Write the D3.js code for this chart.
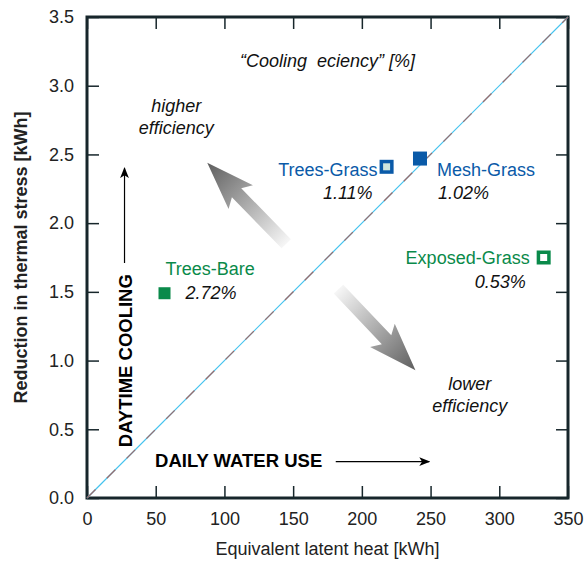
<!DOCTYPE html>
<html>
<head>
<meta charset="utf-8">
<script src="https://cdn.jsdelivr.net/npm/d3@7"></script>
<style>
  body { margin: 0; background: #fff; }
  text { font-family: "Liberation Sans", Arial, sans-serif; }
</style>
</head>
<body>
<div id="chart-area"></div>
<script>
// Data
var sites = ["Trees-Bare", "Trees-Grass", "Mesh-Grass", "Exposed-Grass"];
var latentHeat = [56.4, 218, 242.3, 332.3];
var coolingReduction = [1.49, 2.41, 2.47, 1.75];
var efficiency = ["2.72%", "1.11%", "1.02%", "0.53%"];
var xTicks = [0, 50, 100, 150, 200, 250, 300, 350];
var yTicks = [0, 0.5, 1.0, 1.5, 2.0, 2.5, 3.0, 3.5];

var green = "#0a8a4a", blue = "#0a5aa8", frame = "#17262b";
var fs = "18px";

// Margins
var margin = {top:17, bottom:65, left:87, right:18};
var width = 586 - margin.left - margin.right;
var height = 563 - margin.top - margin.bottom;

var svg = d3.select("#chart-area").append("svg")
    .attr("width", 586).attr("height", 563);

var defs = svg.append("defs");
function grad(id, x1, y1, x2, y2) {
    var g = defs.append("linearGradient").attr("id", id)
        .attr("x1", x1).attr("y1", y1).attr("x2", x2).attr("y2", y2);
    g.append("stop").attr("offset", "0%").attr("stop-color", "#ffffff");
    g.append("stop").attr("offset", "100%").attr("stop-color", "#5e5e5e");
}
grad("gradUp", "1", "1", "0", "0");
grad("gradDown", "0", "0", "1", "1");
defs.append("marker").attr("id", "arrowHead")
    .attr("viewBox", "0 0 10 10").attr("refX", 9).attr("refY", 5)
    .attr("markerWidth", 11).attr("markerHeight", 11).attr("orient", "auto")
    .attr("markerUnits", "userSpaceOnUse")
  .append("path").attr("d", "M0,1 L10,5 L0,9 L2.5,5 Z").attr("fill", "#000");

var canvas = svg.append("g")
    .attr("transform", "translate(" + margin.left + "," + margin.top + ")");

// Scales
var x = d3.scaleLinear().domain([0, 350]).range([0, width]);
var y = d3.scaleLinear().domain([0, 3.5]).range([height, 0]);

// Axes (ticks inward)
var fmtY = d3.format(".1f");
canvas.append("g").attr("transform", "translate(0," + height + ")")
    .call(d3.axisBottom(x).tickValues(xTicks).tickSizeInner(-12).tickSizeOuter(0).tickPadding(14))
    .call(g => g.select(".domain").remove());
canvas.append("g")
    .call(d3.axisLeft(y).tickValues(yTicks).tickFormat(fmtY).tickSizeInner(-12).tickSizeOuter(0).tickPadding(13))
    .call(g => g.select(".domain").remove());
canvas.append("g")
    .call(d3.axisTop(x).tickValues(xTicks).tickSizeInner(-12).tickSizeOuter(0).tickFormat(""))
    .call(g => g.select(".domain").remove());
canvas.append("g").attr("transform", "translate(" + width + ",0)")
    .call(d3.axisRight(y).tickValues(yTicks).tickSizeInner(-12).tickSizeOuter(0).tickFormat(""))
    .call(g => g.select(".domain").remove());
canvas.selectAll(".tick line").attr("stroke", frame).attr("stroke-width", 1.5);
canvas.selectAll(".tick text").attr("font-size", fs).attr("fill", "#222");

// Frame
canvas.append("rect").attr("width", width).attr("height", height)
    .attr("fill", "none").attr("stroke", frame).attr("stroke-width", 3);

// 1:1 line
canvas.append("line")
    .attr("x1", x(0)).attr("y1", y(0)).attr("x2", x(350)).attr("y2", y(3.5))
    .attr("stroke", "#45c3ee").attr("stroke-width", 1.2);
canvas.append("line")
    .attr("x1", x(0)).attr("y1", y(0)).attr("x2", x(350)).attr("y2", y(3.5))
    .attr("stroke", "#9a6a6a").attr("stroke-width", 1.2).attr("stroke-dasharray", "12,16");

// Gradient arrows
function bigArrow(x0, y0, x1, y1, fill) {
    var dx = x1 - x0, dy = y1 - y0, L = Math.sqrt(dx*dx + dy*dy);
    var ux = dx / L, uy = dy / L, px = -uy, py = ux;
    var sw = 6.5, hw = 17, hl = 42;
    var bx = x1 - ux * hl, by = y1 - uy * hl;
    var pts = [
        [x0 + px*sw, y0 + py*sw], [bx + px*sw, by + py*sw], [bx + px*hw - ux*6, by + py*hw - uy*6],
        [x1, y1], [bx - px*hw - ux*6, by - py*hw - uy*6], [bx - px*sw, by - py*sw], [x0 - px*sw, y0 - py*sw]
    ];
    canvas.append("polygon").attr("points", pts.map(p => p.join(",")).join(" "))
        .attr("fill", fill);
}
bigArrow(x(145), y(1.85), x(87.5), y(2.44), "url(#gradUp)");
bigArrow(x(183), y(1.52), x(239), y(0.93), "url(#gradDown)");

// Points
var style = {
    "Trees-Bare":    {fill: green, stroke: green, color: green, size: 12, sw: 0},
    "Trees-Grass":   {fill: "#cfe6dd", stroke: blue, color: blue, size: 10.5, sw: 3.5},
    "Mesh-Grass":    {fill: blue, stroke: blue, color: blue, size: 14, sw: 0},
    "Exposed-Grass": {fill: "#fff", stroke: green, color: green, size: 10.5, sw: 3.5}
};
var pts = sites.map((s, i) => ({site: s, lh: latentHeat[i], cr: coolingReduction[i], eff: efficiency[i], st: style[s]}));
canvas.selectAll(".pt").data(pts).enter().append("rect")
    .attr("class", "pt")
    .attr("x", d => x(d.lh) - d.st.size / 2)
    .attr("y", d => y(d.cr) - d.st.size / 2)
    .attr("width", d => d.st.size)
    .attr("height", d => d.st.size)
    .attr("fill", d => d.st.fill)
    .attr("stroke", d => d.st.stroke)
    .attr("stroke-width", d => d.st.sw);

// Point labels: offsets of name and of percentage relative to point
var labelPos = {
    "Trees-Bare":    {nx: 1, ny: -18, na: "start", px: 21, py: 6, pa: "start"},
    "Trees-Grass":   {nx: -9, ny: 9, na: "end", px: -14, py: 32, pa: "end"},
    "Mesh-Grass":    {nx: 17, ny: 17, na: "start", px: 18, py: 40, pa: "start"},
    "Exposed-Grass": {nx: -14, ny: 6, na: "end", px: -18, py: 30, pa: "end"}
};
pts.forEach(d => {
    var p = labelPos[d.site], cx = x(d.lh), cy = y(d.cr);
    canvas.append("text").attr("x", cx + p.nx).attr("y", cy + p.ny)
        .attr("text-anchor", p.na).attr("font-size", fs).attr("fill", d.st.color).text(d.site);
    canvas.append("text").attr("x", cx + p.px).attr("y", cy + p.py)
        .attr("text-anchor", p.pa).attr("font-size", fs).attr("font-style", "italic").attr("fill", "#111").text(d.eff);
});

// Annotations
function note(xv, yv, t) {
    canvas.append("text").attr("x", x(xv)).attr("y", y(yv)).attr("text-anchor", "middle")
        .attr("font-size", fs).attr("font-style", "italic").attr("fill", "#111").text(t);
}
note(175, 3.136, "\u201cCooling\u00a0\u00a0eciency\u201d [%]");
note(65, 2.81, "higher");
note(65, 2.652, "efficiency");
note(278.5, 0.786, "lower");
note(278.5, 0.626, "efficiency");

// DAILY WATER USE
canvas.append("text").attr("x", x(49.5)).attr("y", y(0.226)).attr("font-size", "18.5px")
    .attr("font-weight", "bold").attr("fill", "#000").text("DAILY WATER USE");
canvas.append("line").attr("x1", x(181)).attr("y1", y(0.264)).attr("x2", x(249)).attr("y2", y(0.264))
    .attr("stroke", "#000").attr("stroke-width", 1.2).attr("marker-end", "url(#arrowHead)");

// DAYTIME COOLING
canvas.append("text").attr("transform", "translate(" + (x(27.3) + 7) + "," + y(0.37) + ") rotate(-90)")
    .attr("font-size", "18.5px").attr("font-weight", "bold").attr("fill", "#000").text("DAYTIME COOLING");
canvas.append("line").attr("x1", x(27.3)).attr("y1", y(1.71)).attr("x2", x(27.3)).attr("y2", y(2.4))
    .attr("stroke", "#000").attr("stroke-width", 1.2).attr("marker-end", "url(#arrowHead)");

// Axis labels
svg.append("text").attr("x", margin.left + width / 2).attr("y", 555).attr("text-anchor", "middle")
    .attr("font-size", fs).attr("fill", "#222").text("Equivalent latent heat [kWh]");
svg.append("text").attr("transform", "translate(27," + (margin.top + height / 2) + ") rotate(-90)")
    .attr("text-anchor", "middle").attr("font-size", fs).attr("font-weight", "bold").attr("fill", "#222")
    .text("Reduction in thermal stress [kWh]");
</script>
</body>
</html>
